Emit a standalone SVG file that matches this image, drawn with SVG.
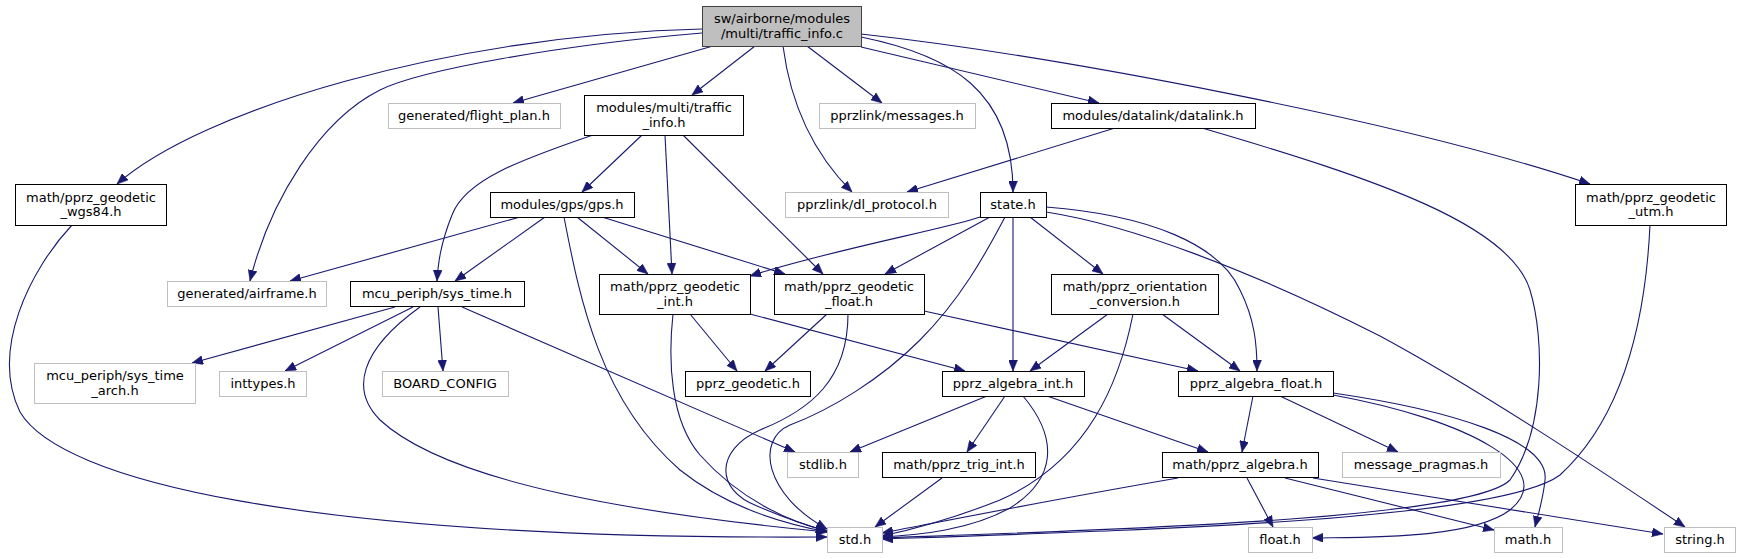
<svg xmlns="http://www.w3.org/2000/svg" width="1741" height="559" viewBox="0 0 1741 559">
<style>
.n{fill:#fff;stroke:#000;stroke-width:1}
.u{fill:#fff;stroke:#bfbfbf;stroke-width:1}
.r{fill:#bfbfbf;stroke:#404040;stroke-width:1}
text{font-family:"DejaVu Sans","Liberation Sans",sans-serif;font-size:13px;text-anchor:middle;fill:#000}
.e path{fill:none;stroke:#191970;stroke-width:1.1;marker-end:url(#a)}
</style>
<defs>
<marker id="a" markerUnits="userSpaceOnUse" markerWidth="11" markerHeight="9" viewBox="0 0 11 9" refX="11" refY="4.5" orient="auto">
<path d="M0,0 L11,4.5 L0,9 z" fill="#191970" stroke="#191970" stroke-width="0.5"/>
</marker>
</defs>
<rect width="1741" height="559" fill="#fff"/>
<g class="e" id="edges">
<path d="M702,29 C450,35 200,110 117,184"/>
<path d="M702,33 C560,45 420,70 380,90 C320,120 270,200 250,281"/>
<path d="M713,46 L513,103"/>
<path d="M755,46 L692,95"/>
<path d="M783,46 C790,100 810,150 852,192"/>
<path d="M807,46 L882,103"/>
<path d="M861,37 C950,55 1013,90 1013,192"/>
<path d="M861,47 L1099,103"/>
<path d="M861,34 C1050,55 1400,120 1590,184"/>
<path d="M642,135 L582,192"/>
<path d="M665,135 L672,274"/>
<path d="M683,135 L823,274"/>
<path d="M593,135 C520,160 465,180 452,215 C440,245 438,265 437,281"/>
<path d="M520,217 L290,281"/>
<path d="M545,217 L455,281"/>
<path d="M564,217 C580,300 600,400 680,470 C730,510 790,525 828,532"/>
<path d="M577,217 L648,274"/>
<path d="M602,217 L785,274"/>
<path d="M72,225 C30,270 -10,350 20,412 C60,480 300,540 827,537"/>
<path d="M420,307 C360,350 350,390 380,420 C450,485 650,515 827,532"/>
<path d="M673,314 C668,360 670,420 700,455 C740,500 790,522 827,531"/>
<path d="M848,314 C848,380 810,410 760,430 C715,450 715,490 757,506 C785,518 805,525 827,531"/>
<path d="M1005,217 C985,255 960,300 920,340 C880,380 830,410 790,425 C755,440 765,495 827,529"/>
<path d="M980,217 C950,228 830,250 750,276"/>
<path d="M990,217 L885,274"/>
<path d="M1013,217 L1013,371"/>
<path d="M1030,217 L1103,274"/>
<path d="M1046,207 C1150,215 1220,245 1240,290 C1255,320 1257,345 1257,371"/>
<path d="M1046,212 C1130,225 1250,270 1380,336 C1480,390 1600,470 1685,527"/>
<path d="M1115,128 L907,192"/>
<path d="M1202,128 C1380,180 1510,225 1530,290 C1545,340 1545,430 1510,480 C1470,520 1100,530 882,538"/>
<path d="M1650,225 C1645,330 1620,420 1560,475 C1500,520 1150,530 882,539"/>
<path d="M1133,314 C1120,380 1090,460 1000,500 C950,520 910,530 882,536"/>
<path d="M1023,396 C1060,440 1055,480 1010,508 C970,530 920,535 882,537"/>
<path d="M1178,478 C1050,500 950,520 882,533"/>
<path d="M942,478 L875,527"/>
<path d="M395,307 L192,363"/>
<path d="M413,307 L285,371"/>
<path d="M438,307 L443,371"/>
<path d="M462,307 L795,452"/>
<path d="M690,314 L737,371"/>
<path d="M750,314 L965,371"/>
<path d="M827,314 L765,371"/>
<path d="M924,311 L1198,371"/>
<path d="M1108,314 L1030,371"/>
<path d="M1162,314 L1240,371"/>
<path d="M987,396 L850,452"/>
<path d="M1005,396 L967,452"/>
<path d="M1047,396 L1208,452"/>
<path d="M1253,396 L1242,452"/>
<path d="M1280,396 L1398,452"/>
<path d="M1333,395 C1470,420 1560,470 1510,510 C1470,540 1360,537 1312,538"/>
<path d="M1333,393 C1450,410 1550,440 1545,480 C1543,500 1538,515 1535,527"/>
<path d="M1247,478 L1273,527"/>
<path d="M1285,478 L1494,530"/>
<path d="M1313,478 L1663,534"/>
</g>
<g id="root"><rect class="r" x="702.5" y="6.5" width="159" height="40"/><text x="782" y="23">sw/airborne/modules</text><text x="782" y="38">/multi/traffic_info.c</text></g>
<g id="wgs84"><rect class="n" x="15.5" y="184.5" width="151" height="41"/><text x="91" y="202">math/pprz_geodetic</text><text x="91" y="216">_wgs84.h</text></g>
<g id="flight_plan"><rect class="u" x="388.5" y="103.5" width="172" height="25"/><text x="474" y="120">generated/flight_plan.h</text></g>
<g id="traffic_info_h"><rect class="n" x="584.5" y="95.5" width="159" height="40"/><text x="664" y="112">modules/multi/traffic</text><text x="664" y="127">_info.h</text></g>
<g id="messages"><rect class="u" x="819.5" y="103.5" width="156" height="25"/><text x="897" y="120">pprzlink/messages.h</text></g>
<g id="datalink"><rect class="n" x="1051.5" y="103.5" width="204" height="25"/><text x="1153" y="120">modules/datalink/datalink.h</text></g>
<g id="utm"><rect class="n" x="1575.5" y="184.5" width="151" height="41"/><text x="1651" y="202">math/pprz_geodetic</text><text x="1651" y="216">_utm.h</text></g>
<g id="gps"><rect class="n" x="490.5" y="192.5" width="144" height="25"/><text x="562" y="209">modules/gps/gps.h</text></g>
<g id="dl_protocol"><rect class="u" x="785.5" y="192.5" width="163" height="25"/><text x="867" y="209">pprzlink/dl_protocol.h</text></g>
<g id="state"><rect class="n" x="980.5" y="192.5" width="66" height="25"/><text x="1013" y="209">state.h</text></g>
<g id="airframe"><rect class="u" x="167.5" y="281.5" width="159" height="25"/><text x="247" y="298">generated/airframe.h</text></g>
<g id="sys_time"><rect class="n" x="350.5" y="281.5" width="174" height="25"/><text x="437" y="298">mcu_periph/sys_time.h</text></g>
<g id="geodetic_int"><rect class="n" x="599.5" y="274.5" width="151" height="40"/><text x="675" y="291">math/pprz_geodetic</text><text x="675" y="306">_int.h</text></g>
<g id="geodetic_float"><rect class="n" x="774.5" y="274.5" width="150" height="40"/><text x="849" y="291">math/pprz_geodetic</text><text x="849" y="306">_float.h</text></g>
<g id="orientation"><rect class="n" x="1051.5" y="274.5" width="167" height="40"/><text x="1135" y="291">math/pprz_orientation</text><text x="1135" y="306">_conversion.h</text></g>
<g id="sys_time_arch"><rect class="u" x="34.5" y="363.5" width="161" height="40"/><text x="115" y="380">mcu_periph/sys_time</text><text x="115" y="395">_arch.h</text></g>
<g id="inttypes"><rect class="u" x="219.5" y="371.5" width="87" height="25"/><text x="263" y="388">inttypes.h</text></g>
<g id="board_config"><rect class="u" x="382.5" y="371.5" width="126" height="25"/><text x="445" y="388">BOARD_CONFIG</text></g>
<g id="geodetic"><rect class="n" x="685.5" y="371.5" width="125" height="25"/><text x="748" y="388">pprz_geodetic.h</text></g>
<g id="algebra_int"><rect class="n" x="942.5" y="371.5" width="142" height="25"/><text x="1013" y="388">pprz_algebra_int.h</text></g>
<g id="algebra_float"><rect class="n" x="1178.5" y="371.5" width="155" height="25"/><text x="1256" y="388">pprz_algebra_float.h</text></g>
<g id="stdlib"><rect class="u" x="787.5" y="452.5" width="71" height="25"/><text x="823" y="469">stdlib.h</text></g>
<g id="trig_int"><rect class="n" x="882.5" y="452.5" width="153" height="25"/><text x="959" y="469">math/pprz_trig_int.h</text></g>
<g id="algebra"><rect class="n" x="1162.5" y="452.5" width="156" height="25"/><text x="1240" y="469">math/pprz_algebra.h</text></g>
<g id="message_pragmas"><rect class="u" x="1342.5" y="452.5" width="158" height="25"/><text x="1421" y="469">message_pragmas.h</text></g>
<g id="std"><rect class="u" x="827.5" y="527.5" width="55" height="25"/><text x="855" y="544">std.h</text></g>
<g id="float"><rect class="u" x="1248.5" y="527.5" width="64" height="25"/><text x="1280" y="544">float.h</text></g>
<g id="math"><rect class="u" x="1494.5" y="527.5" width="68" height="25"/><text x="1528" y="544">math.h</text></g>
<g id="string"><rect class="u" x="1664.5" y="527.5" width="71" height="25"/><text x="1700" y="544">string.h</text></g>
</svg>
